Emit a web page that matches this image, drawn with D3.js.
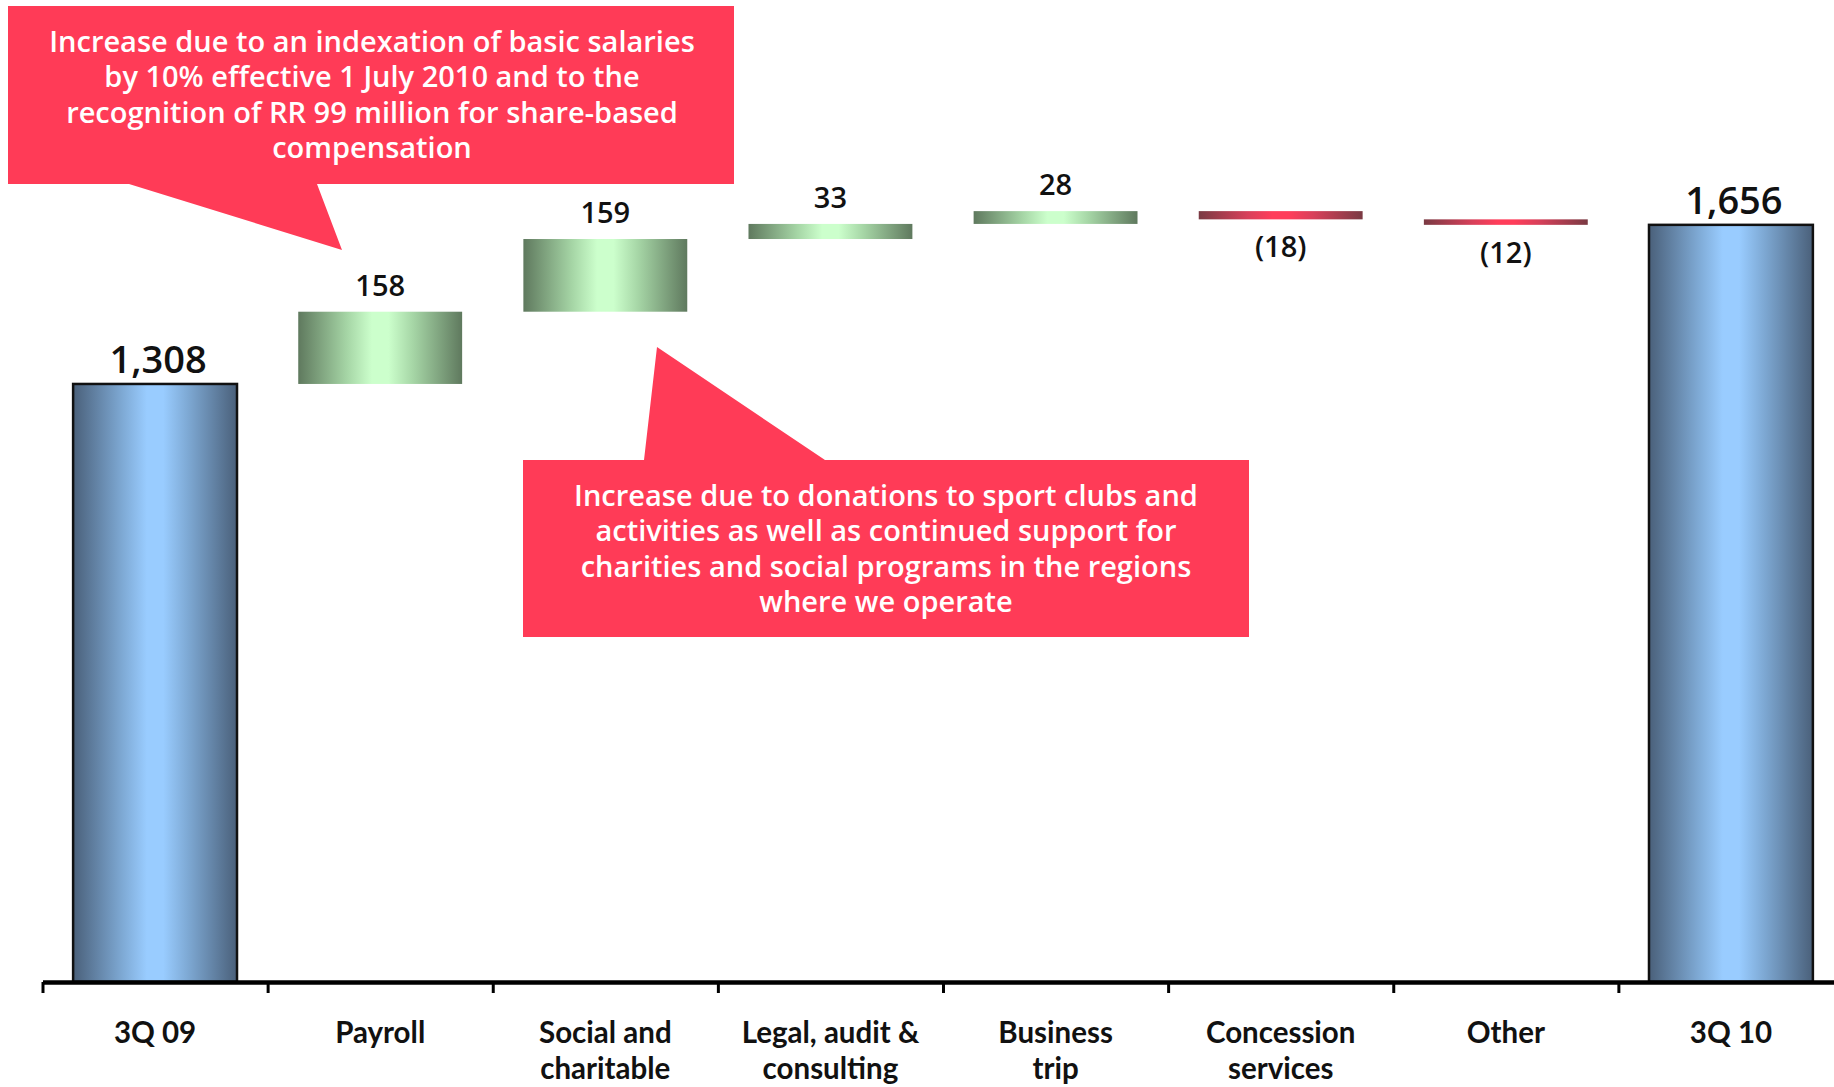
<!DOCTYPE html>
<html>
<head>
<meta charset="utf-8">
<script src="https://cdn.jsdelivr.net/npm/d3@7"></script>
<style>
  html, body { margin: 0; padding: 0; background: #ffffff; }
  svg { display: block; }
  text { font-family: "Open Sans", "Noto Sans", sans-serif; }
  .cat { font-family: Lato, "Open Sans", sans-serif; }
</style>
</head>
<body>
<svg id="chart" width="1834" height="1087"></svg>
<script>
// Operating expenses bridge, 3Q 09 to 3Q 10 (RR million)
const categories = ["3Q 09", "Payroll", "Social and charitable", "Legal, audit & consulting",
                    "Business trip", "Concession services", "Other", "3Q 10"];
const categoryLines = [["3Q 09"], ["Payroll"], ["Social and", "charitable"], ["Legal, audit &", "consulting"],
                       ["Business", "trip"], ["Concession", "services"], ["Other"], ["3Q 10"]];
const values = [1308, 158, 159, 33, 28, -18, -12, 1656];
const kinds = ["total", "delta", "delta", "delta", "delta", "delta", "delta", "total"];
const valueLabels = ["1,308", "158", "159", "33", "28", "(18)", "(12)", "1,656"];

const notePayroll = ["Increase due to an indexation of basic salaries",
                     "by 10% effective 1 July 2010 and to the",
                     "recognition of RR 99 million for share-based",
                     "compensation"];
const noteSocial = ["Increase due to donations to sport clubs and",
                    "activities as well as continued support for",
                    "charities and social programs in the regions",
                    "where we operate"];

// Running totals for the waterfall
let running = 0;
const rows = categories.map((c, i) => {
  let start, end;
  if (kinds[i] === "total") { start = 0; end = values[i]; running = values[i]; }
  else { start = running; end = running + values[i]; running = end; }
  return { cat: c, lines: categoryLines[i], value: values[i], kind: kinds[i], label: valueLabels[i],
           lo: Math.min(start, end), hi: Math.max(start, end) };
});

const svg = d3.select("#chart");
const axisY = 982;
const x = d3.scaleBand().domain(categories).range([42.5, 1843.5]).paddingInner(0).paddingOuter(0);
const xEdge = d3.scaleLinear().domain([0, categories.length]).range([42.5, 1843.5]);
const y = d3.scaleLinear().domain([0, 1800]).range([axisY, 159]);
const barW = x.bandwidth() * 0.728;

// Gradients
const defs = svg.append("defs");
function hGradient(id, edge, mid, center) {
  const g = defs.append("linearGradient").attr("id", id)
    .attr("x1", "0%").attr("x2", "100%").attr("y1", "0%").attr("y2", "0%");
  [[0, edge], [0.3, mid], [0.45, center], [0.55, center], [0.7, mid], [1, edge]].forEach(([o, c]) =>
    g.append("stop").attr("offset", o).attr("stop-color", c));
}
hGradient("gTotal", "#4a607a", "#7ea9d4", "#99ccff");
hGradient("gUp", "#5f795e", "#a6d6a6", "#ccffcc");
hGradient("gDown", "#7a3a43", "#d8405a", "#ff3d5a");

// Callouts
const calloutFill = "#ff3b57";
function callout(rect, tail, lines, cx, baseline0) {
  const [x0, y0, x1, y1] = rect;
  const g = svg.append("g");
  const p = d3.path();
  if (tail.side === "bottom") {
    p.moveTo(x0, y0); p.lineTo(x1, y0); p.lineTo(x1, y1);
    p.lineTo(tail.b2, y1); p.lineTo(tail.tx, tail.ty); p.lineTo(tail.b1, y1);
    p.lineTo(x0, y1); p.closePath();
  } else {
    p.moveTo(x0, y0); p.lineTo(tail.b1, y0); p.lineTo(tail.tx, tail.ty); p.lineTo(tail.b2, y0);
    p.lineTo(x1, y0); p.lineTo(x1, y1); p.lineTo(x0, y1); p.closePath();
  }
  g.append("path").attr("d", p.toString()).attr("fill", calloutFill);
  g.selectAll("text").data(lines).join("text")
    .attr("x", cx).attr("y", (d, i) => baseline0 + i * 35.4)
    .attr("text-anchor", "middle").attr("fill", "#ffffff")
    .attr("font-size", 29).attr("font-weight", 600)
    .text(d => d);
}
callout([8, 6, 734, 184], { side: "bottom", b1: 129, b2: 317, tx: 342, ty: 250 }, notePayroll, 372, 52);
callout([523, 460, 1249, 637], { side: "top", b1: 644, b2: 825, tx: 657, ty: 347 }, noteSocial, 886, 506);

// Bars
const bars = svg.append("g");
bars.selectAll("rect").data(rows).join("rect")
  .attr("x", d => x(d.cat) + (x.bandwidth() - barW) / 2)
  .attr("y", d => y(d.hi))
  .attr("width", barW)
  .attr("height", d => y(d.lo) - y(d.hi))
  .attr("fill", d => d.kind === "total" ? "url(#gTotal)" : (d.value >= 0 ? "url(#gUp)" : "url(#gDown)"))
  .attr("stroke", d => d.kind === "total" ? "#111111" : "none")
  .attr("stroke-width", 2.5);

// Value labels
svg.append("g").selectAll("text").data(rows).join("text")
  .attr("x", d => x(d.cat) + x.bandwidth() / 2 + (d.kind === "total" ? 3 : 0))
  .attr("y", d => d.kind === "total" ? y(d.hi) - 11 : (d.value >= 0 ? y(d.hi) - 16 : y(d.lo) + 38))
  .attr("text-anchor", "middle")
  .attr("font-size", d => d.kind === "total" ? 38 : 29)
  .attr("font-weight", 600)
  .attr("fill", "#111111")
  .text(d => d.label);

// Category axis with ticks at band edges
const axisG = svg.append("g").attr("transform", `translate(0,${axisY})`)
  .call(d3.axisBottom(xEdge).tickValues(d3.range(categories.length + 1)).tickFormat("")
    .tickSize(11).tickSizeOuter(0));
axisG.select(".domain").attr("stroke", "#000").attr("stroke-width", 4.5);
axisG.selectAll(".tick line").attr("stroke", "#000").attr("stroke-width", 3);

// Category labels
const catG = svg.append("g");
rows.forEach(d => {
  catG.append("g").selectAll("text").data(d.lines).join("text")
    .attr("class", "cat")
    .attr("x", x(d.cat) + x.bandwidth() / 2)
    .attr("y", (t, i) => 1043 + i * 36)
    .attr("text-anchor", "middle")
    .attr("font-size", 29.5).attr("font-weight", 700)
    .attr("fill", "#111111")
    .text(t => t);
});
</script>
</body>
</html>
